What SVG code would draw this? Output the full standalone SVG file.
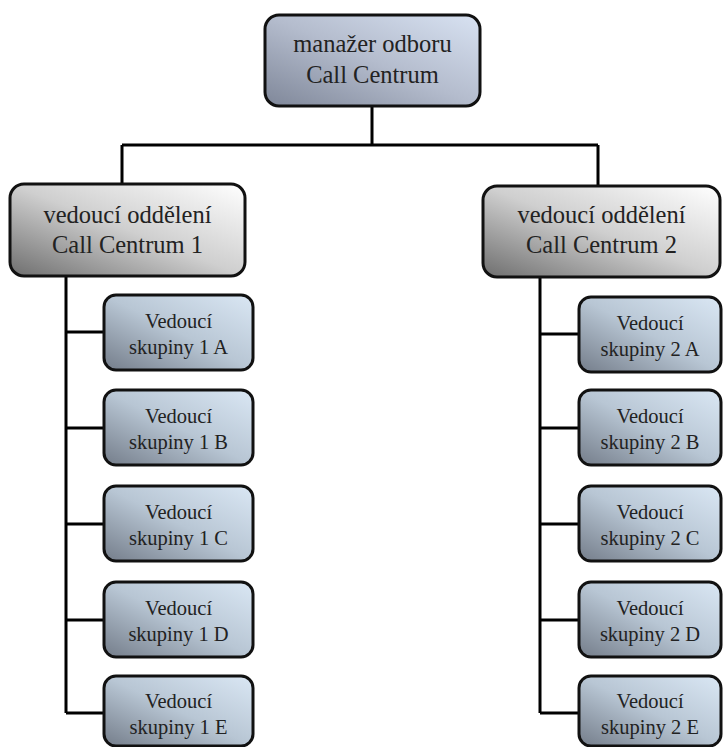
<svg xmlns="http://www.w3.org/2000/svg" width="723" height="747" viewBox="0 0 723 747">
<defs>
<linearGradient id="gTop" x1="0" y1="1" x2="1" y2="0">
<stop offset="0" stop-color="#7f8799"/>
<stop offset="0.5" stop-color="#b4bccd"/>
<stop offset="1" stop-color="#d8e2f2"/>
</linearGradient>
<linearGradient id="gMid" x1="0" y1="1" x2="1" y2="0">
<stop offset="0" stop-color="#6e6e6e"/>
<stop offset="0.5" stop-color="#cfcfcf"/>
<stop offset="1" stop-color="#ffffff"/>
</linearGradient>
<linearGradient id="gLeaf" x1="0" y1="1" x2="1" y2="0">
<stop offset="0" stop-color="#747d8a"/>
<stop offset="0.5" stop-color="#b8c6d4"/>
<stop offset="1" stop-color="#dae7f4"/>
</linearGradient>
</defs>
<style>
.box{stroke:#111;stroke-width:3}
.top{fill:url(#gTop)}
.mid{fill:url(#gMid)}
.leaf{fill:url(#gLeaf)}
text{font-family:'Liberation Serif','DejaVu Serif',serif;fill:#222;text-anchor:middle}
.big{font-size:24.5px}
.small{font-size:20.5px}
.conn{stroke:#000;stroke-width:3;fill:none}
</style>
<g id="connectors">
<path class="conn" d="M372,106 V145 M122,145 H598 M122,145 V184 M598,145 V186"/>
<path class="conn" d="M66,276 V713 M66,332 H104 M66,428 H104 M66,524 H104 M66,620 H104 M66,713 H104"/>
<path class="conn" d="M540,277 V713 M540,334 H579 M540,428 H579 M540,524 H579 M540,620 H579 M540,713 H579"/>
</g>
<g id="manager">
<rect class="box top" x="265" y="15" width="215" height="91" rx="14"/>
<text class="big" x="372.5" y="52" font-family="Liberation Serif, serif">manažer odboru</text>
<text class="big" x="372.5" y="83" font-family="Liberation Serif, serif">Call Centrum</text>
</g>
<g id="dept1">
<rect class="box mid" x="10" y="184" width="235" height="92" rx="14"/>
<text class="big" x="127.5" y="223">vedoucí oddělení</text>
<text class="big" x="127.5" y="253">Call Centrum 1</text>
</g>
<g id="dept2">
<rect class="box mid" x="483" y="186" width="237" height="91" rx="14"/>
<text class="big" x="601.5" y="223">vedoucí oddělení</text>
<text class="big" x="601.5" y="253">Call Centrum 2</text>
</g>
<g id="g1a"><rect class="box leaf" x="104" y="295" width="149" height="75" rx="12"/><text class="small" x="178.5" y="328">Vedoucí</text><text class="small" x="178.5" y="354">skupiny 1 A</text></g>
<g id="g1b"><rect class="box leaf" x="104" y="390" width="149" height="75" rx="12"/><text class="small" x="178.5" y="423">Vedoucí</text><text class="small" x="178.5" y="449">skupiny 1 B</text></g>
<g id="g1c"><rect class="box leaf" x="104" y="486" width="149" height="75" rx="12"/><text class="small" x="178.5" y="519">Vedoucí</text><text class="small" x="178.5" y="545">skupiny 1 C</text></g>
<g id="g1d"><rect class="box leaf" x="104" y="582" width="149" height="75" rx="12"/><text class="small" x="178.5" y="615">Vedoucí</text><text class="small" x="178.5" y="641">skupiny 1 D</text></g>
<g id="g1e"><rect class="box leaf" x="104" y="676" width="149" height="70" rx="12"/><text class="small" x="178.5" y="708">Vedoucí</text><text class="small" x="178.5" y="734">skupiny 1 E</text></g>
<g id="g2a"><rect class="box leaf" x="579" y="297" width="142" height="75" rx="12"/><text class="small" x="650" y="330">Vedoucí</text><text class="small" x="650" y="356">skupiny 2 A</text></g>
<g id="g2b"><rect class="box leaf" x="579" y="390" width="142" height="75" rx="12"/><text class="small" x="650" y="423">Vedoucí</text><text class="small" x="650" y="449">skupiny 2 B</text></g>
<g id="g2c"><rect class="box leaf" x="579" y="486" width="142" height="75" rx="12"/><text class="small" x="650" y="519">Vedoucí</text><text class="small" x="650" y="545">skupiny 2 C</text></g>
<g id="g2d"><rect class="box leaf" x="579" y="582" width="142" height="75" rx="12"/><text class="small" x="650" y="615">Vedoucí</text><text class="small" x="650" y="641">skupiny 2 D</text></g>
<g id="g2e"><rect class="box leaf" x="579" y="676" width="142" height="70" rx="12"/><text class="small" x="650" y="708">Vedoucí</text><text class="small" x="650" y="734">skupiny 2 E</text></g>
</svg>
